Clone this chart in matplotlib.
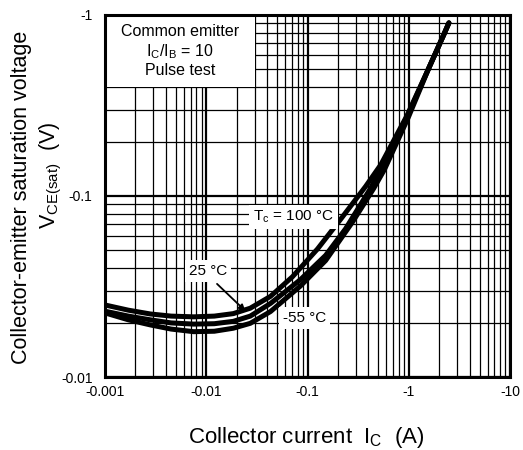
import matplotlib
matplotlib.use('Agg')
import matplotlib.pyplot as plt
from matplotlib.ticker import FixedLocator, FixedFormatter, NullFormatter
from matplotlib.patches import Rectangle

plt.rcParams['font.family'] = ['Liberation Sans', 'DejaVu Sans']
plt.rcParams['mathtext.fontset'] = 'custom'
plt.rcParams['mathtext.rm'] = 'Liberation Sans'
plt.rcParams['mathtext.it'] = 'Liberation Sans:italic'
plt.rcParams['mathtext.bf'] = 'Liberation Sans:bold'

# Collector current magnitude (A) and VCE(sat) magnitude (V) for each case temperature
ic_100 = [0.001, 0.0017, 0.0028, 0.0045, 0.0075, 0.012, 0.0185, 0.0272, 0.0431, 0.071,
          0.1256, 0.212, 0.375, 0.53, 0.96, 1.58, 2.22, 2.49]
vce_100 = [0.0250, 0.0234, 0.0223, 0.0217, 0.0215, 0.0217, 0.0224, 0.0240, 0.0279, 0.0358,
           0.0510, 0.0743, 0.113, 0.149, 0.278, 0.51, 0.78, 0.904]

ic_25 = [0.001, 0.0017, 0.0028, 0.0045, 0.0075, 0.012, 0.0185, 0.0272, 0.0431, 0.085,
         0.151, 0.238, 0.41, 0.553, 0.977, 1.58, 2.22, 2.49]
vce_25 = [0.0231, 0.0217, 0.0207, 0.0199, 0.0196, 0.0197, 0.0203, 0.0217, 0.0255, 0.0345,
          0.047, 0.066, 0.108, 0.146, 0.279, 0.51, 0.78, 0.904]

ic_m55 = [0.001, 0.0017, 0.0028, 0.0045, 0.0075, 0.012, 0.0185, 0.0272, 0.0431, 0.085,
          0.151, 0.279, 0.45, 0.575, 0.99, 1.58, 2.22, 2.49]
vce_m55 = [0.0226, 0.0207, 0.0194, 0.0184, 0.0178, 0.0179, 0.0186, 0.0198, 0.0230, 0.0318,
           0.0440, 0.0720, 0.110, 0.140, 0.272, 0.51, 0.78, 0.904]

x_ticks = [0.001, 0.01, 0.1, 1, 10]
x_labels = ['-0.001', '-0.01', '-0.1', '-1', '-10']
y_ticks = [0.01, 0.1, 1]
y_labels = ['-0.01', '-0.1', '-1']

fig = plt.figure(figsize=(5.23, 4.5), dpi=100)
ax = fig.add_axes([0.2008, 0.1622, 0.7744, 0.8045])
ax.set_xscale('log')
ax.set_yscale('log')
ax.set_xlim(0.001, 10)
ax.set_ylim(0.01, 1)

ax.xaxis.set_major_locator(FixedLocator(x_ticks))
ax.xaxis.set_major_formatter(FixedFormatter(x_labels))
ax.yaxis.set_major_locator(FixedLocator(y_ticks))
ax.yaxis.set_major_formatter(FixedFormatter(y_labels))
minor_x = [m * 10.0 ** e for e in range(-3, 1) for m in range(2, 10)]
minor_y = [m * 10.0 ** e for e in range(-2, 0) for m in range(2, 10)]
ax.xaxis.set_minor_locator(FixedLocator(minor_x))
ax.yaxis.set_minor_locator(FixedLocator(minor_y))
ax.xaxis.set_minor_formatter(NullFormatter())
ax.yaxis.set_minor_formatter(NullFormatter())

ax.tick_params(which='both', length=0, labelsize=10)
ax.tick_params(axis='x', pad=6)
ax.tick_params(axis='y', pad=9)

ax.grid(which='major', color='black', lw=1.6)
ax.grid(which='minor', color='black', lw=0.9)
for s in ax.spines.values():
    s.set_linewidth(2.2)
    s.set_zorder(6)

# white box for conditions
ax.add_patch(Rectangle((0.001, 0.4), 0.029, 0.6, fc='white', ec='none', zorder=2))
ax.text(0.0055, 0.63, 'Common emitter\nI$_\\mathregular{C}$/I$_\\mathregular{B}$ = 10\nPulse test',
        ha='center', va='center', fontsize=11.5, linespacing=1.2, zorder=5)

for xs, v in ((ic_100, vce_100), (ic_25, vce_25), (ic_m55, vce_m55)):
    ax.plot(xs, v, color='black', lw=3.6, solid_capstyle='round', solid_joinstyle='round', zorder=3)

box = dict(boxstyle='square,pad=0.25', fc='white', ec='none')
ax.text(0.0726, 0.0766, 'T$_\\mathregular{c}$ = 100 °C', ha='center', va='center',
        fontsize=11, bbox=box, zorder=5)
ax.text(0.0105, 0.0385, '25 °C', ha='center', va='center', fontsize=11, bbox=box, zorder=5)
ax.annotate('', xy=(0.0255, 0.0226), xytext=(0.0122, 0.0335),
            arrowprops=dict(arrowstyle='-|>', color='black', lw=1.3, mutation_scale=9), zorder=5)
ax.text(0.093, 0.0212, '-55 °C', ha='center', va='center', fontsize=11, bbox=box, zorder=5)

fig.text(0.585, 0.028, 'Collector current  I$_\\mathregular{C}$  (A)', ha='center', va='center', fontsize=16)
fig.text(0.042, 0.562, 'Collector-emitter saturation voltage', rotation=90,
         ha='center', va='center', fontsize=15.5)
fig.text(0.097, 0.61, 'V$_\\mathregular{CE(sat)}$  (V)', rotation=90,
         ha='center', va='center', fontsize=15.5)

fig.savefig('out.png', dpi=100)
